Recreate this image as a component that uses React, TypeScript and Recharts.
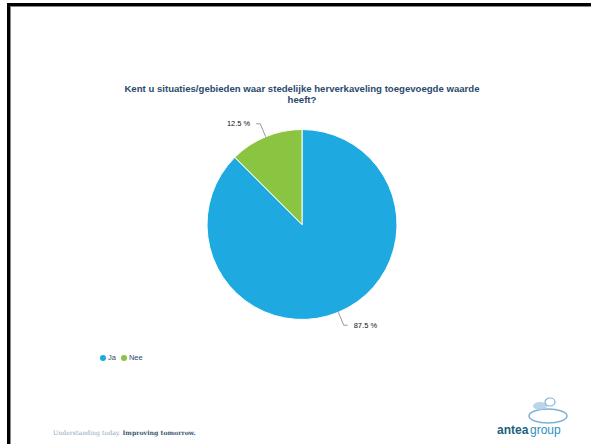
import React from "react";
import { PieChart, Pie, Cell } from "recharts";

const categories = ["Ja", "Nee"];
const values = [87.5, 12.5];
const labels = ["87.5 %", "12.5 %"];
const colors = ["#1FA9E1", "#8BC441"];

const data = categories.map((c, i) => ({ name: c, value: values[i], label: labels[i] }));

const RAD = Math.PI / 180;

const renderLabel = (props: any) => {
  const { cx, cy, midAngle, outerRadius, index } = props;
  const cos = Math.cos(-midAngle * RAD);
  const sin = Math.sin(-midAngle * RAD);
  const x1 = cx + outerRadius * cos;
  const y1 = cy + outerRadius * sin;
  const x2 = cx + (outerRadius + 14) * cos;
  const y2 = cy + (outerRadius + 14) * sin;
  const dir = cos >= 0 ? 1 : -1;
  const x3 = x2 + dir * 4;
  const tx = x3 + dir * 6;
  return (
    <g>
      <polyline
        points={`${x1},${y1} ${x2},${y2} ${x3},${y2}`}
        fill="none"
        stroke="#999"
        strokeWidth={1}
      />
      <text
        x={tx}
        y={y2}
        textAnchor={dir > 0 ? "start" : "end"}
        dominantBaseline="central"
        fontSize={7.5}
        fontFamily="Liberation Sans, Arial, sans-serif"
        fill="#111"
      >
        {data[index].label}
      </text>
    </g>
  );
};

export default function App() {
  return (
    <div
      style={{
        position: "absolute",
        left: 0,
        top: 0,
        width: 591,
        height: 444,
        background: "#fff",
        overflow: "hidden",
        fontFamily: "Liberation Sans, Arial, sans-serif",
      }}
    >
      <div
        style={{
          position: "absolute",
          left: 7,
          top: 3,
          width: 700,
          height: 600,
          borderTop: "3px solid #000",
          borderLeft: "3px solid #000",
          boxShadow: "inset 1px 1px 0 #888",
        }}
      />
      <div
        style={{
          position: "absolute",
          left: 118,
          top: 83,
          width: 368,
          textAlign: "center",
          fontSize: 9.6,
          fontWeight: "bold",
          lineHeight: "11px",
          color: "#2B4A6B",
        }}
      >
        Kent u situaties/gebieden waar stedelijke herverkaveling toegevoegde waarde heeft?
      </div>
      <div style={{ position: "absolute", left: 0, top: 0 }}>
        <PieChart width={591} height={444} margin={{ top: 0, right: 0, bottom: 0, left: 0 }}>
          <Pie
            data={data}
            dataKey="value"
            nameKey="name"
            cx={302}
            cy={224.5}
            outerRadius={95}
            startAngle={90}
            endAngle={-270}
            stroke="#fff"
            strokeWidth={1}
            isAnimationActive={false}
            label={renderLabel}
            labelLine={false}
          >
            {data.map((d, i) => (
              <Cell key={d.name} fill={colors[i]} />
            ))}
          </Pie>
        </PieChart>
      </div>
      <div
        style={{
          position: "absolute",
          left: 100,
          top: 353,
          display: "flex",
          alignItems: "center",
          fontSize: 7.5,
          color: "#2B4A6B",
        }}
      >
        {categories.map((c, i) => (
          <div key={c} style={{ display: "flex", alignItems: "center", marginRight: 5 }}>
            <span
              style={{
                display: "inline-block",
                width: 6,
                height: 6,
                borderRadius: 3,
                background: colors[i],
                marginRight: 2,
              }}
            />
            <span>{c}</span>
          </div>
        ))}
      </div>
      <div
        style={{
          position: "absolute",
          left: 53,
          top: 429,
          fontSize: 6.2,
          fontFamily: "DejaVu Serif, serif",
          color: "#93A7BA",
          whiteSpace: "nowrap",
        }}
      >
        Understanding today. <span style={{ color: "#3D5A78", fontWeight: "bold" }}>Improving tomorrow.</span>
      </div>
      <svg
        style={{ position: "absolute", left: 490, top: 392 }}
        width={100}
        height={50}
      >
        <ellipse cx={58} cy={24} rx={19} ry={7} fill="none" stroke="#7FB2D6" strokeWidth={1.5} />
        <ellipse cx={50} cy={14} rx={7} ry={4} fill="#A9CBE5" opacity={0.8} />
        <ellipse cx={60} cy={10} rx={5} ry={4} fill="none" stroke="#7FB2D6" strokeWidth={1.2} />
        <text x={7} y={42} fontSize={12} fontWeight="bold" fontFamily="Liberation Sans, Arial, sans-serif" fill="#1E5E7E">
          antea
        </text>
        <text x={40} y={42} fontSize={12} fontFamily="Liberation Sans, Arial, sans-serif" fill="#2D8FC2">
          group
        </text>
      </svg>
    </div>
  );
}
